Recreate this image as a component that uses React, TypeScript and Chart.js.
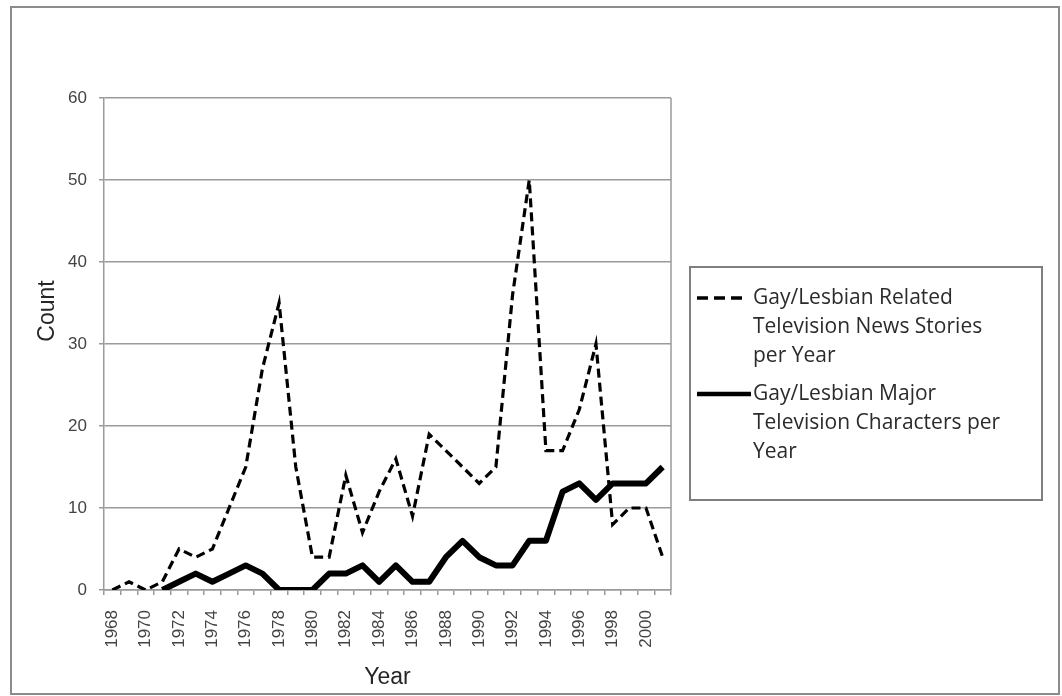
import React, { useEffect, useRef } from "react";
import { Chart, registerables } from "chart.js";

Chart.register(...registerables);

// Years on the category axis
const years: string[] = [
  "1968", "1969", "1970", "1971", "1972", "1973", "1974", "1975", "1976", "1977",
  "1978", "1979", "1980", "1981", "1982", "1983", "1984", "1985", "1986", "1987",
  "1988", "1989", "1990", "1991", "1992", "1993", "1994", "1995", "1996", "1997",
  "1998", "1999", "2000", "2001",
];

// Gay/Lesbian related television news stories per year
const newsStories: (number | null)[] = [
  0, 1, 0, 1, 5, 4, 5, 10, 15, 27,
  35, 15, 4, 4, 14, 7, 12, 16, 9, 19,
  17, 15, 13, 15, 36, 50, 17, 17, 22, 30,
  8, 10, 10, 4,
];

// Gay/Lesbian major television characters per year
const majorCharacters: (number | null)[] = [
  null, null, null, 0, 1, 2, 1, 2, 3, 2,
  0, 0, 0, 2, 2, 3, 1, 3, 1, 1,
  4, 6, 4, 3, 3, 6, 6, 12, 13, 11,
  13, 13, 13, 15,
];

const newsLabel = ["Gay/Lesbian Related", "Television News Stories", "per Year"];
const charLabel = ["Gay/Lesbian Major", "Television Characters per", "Year"];

const yTitle = "Count";
const xTitle = "Year";

const AXIS_GREY = "#9a9a9a";
const SANS = "'Liberation Sans', Arial, sans-serif";
const TICK_FONT = { family: SANS, size: 17 };

// Outer frame, plot frame, rotated y title and the boxed legend
const decorations = {
  id: "decorations",
  afterDraw(chart: Chart) {
    const { ctx, chartArea } = chart;
    ctx.save();

    // chart frame
    ctx.strokeStyle = "#8c8c8c";
    ctx.lineWidth = 2;
    ctx.strokeRect(11, 7, 1048, 687);

    // plot area frame (right side)
    ctx.strokeStyle = AXIS_GREY;
    ctx.lineWidth = 1.5;
    ctx.beginPath();
    ctx.moveTo(chartArea.right, chartArea.top);
    ctx.lineTo(chartArea.right, chartArea.bottom);
    ctx.stroke();

    // y axis title
    ctx.save();
    ctx.translate(48, 311);
    ctx.rotate(-Math.PI / 2);
    ctx.fillStyle = "#262626";
    ctx.font = `23px ${SANS}`;
    ctx.textAlign = "center";
    ctx.textBaseline = "middle";
    ctx.fillText(yTitle, 0, 0);
    ctx.restore();

    // legend box
    ctx.strokeStyle = "#7f7f7f";
    ctx.lineWidth = 2;
    ctx.strokeRect(690, 267, 352, 233);

    ctx.strokeStyle = "#000";
    ctx.lineWidth = 3.5;
    ctx.setLineDash([11, 6]);
    ctx.beginPath();
    ctx.moveTo(697, 298);
    ctx.lineTo(747, 298);
    ctx.stroke();

    ctx.setLineDash([]);
    ctx.lineWidth = 4.5;
    ctx.beginPath();
    ctx.moveTo(697, 394);
    ctx.lineTo(751, 394);
    ctx.stroke();

    ctx.fillStyle = "#2b2b2b";
    ctx.font = "21px 'Open Sans', Lato, sans-serif";
    ctx.textAlign = "left";
    ctx.textBaseline = "middle";
    newsLabel.forEach((t, i) => ctx.fillText(t, 753, 298 + i * 29));
    charLabel.forEach((t, i) => ctx.fillText(t, 753, 394 + i * 29));

    ctx.restore();
  },
};

export default function App() {
  const canvasRef = useRef<HTMLCanvasElement | null>(null);

  useEffect(() => {
    if (!canvasRef.current) return;
    const chart = new Chart(canvasRef.current, {
      type: "line",
      data: {
        labels: years,
        datasets: [
          {
            label: newsLabel.join(" "),
            data: newsStories,
            borderColor: "#000",
            borderWidth: 3.2,
            borderDash: [9, 5],
            pointRadius: 0,
            tension: 0,
            spanGaps: false,
          },
          {
            label: charLabel.join(" "),
            data: majorCharacters,
            borderColor: "#000",
            borderWidth: 6,
            borderJoinStyle: "round",
            pointRadius: 0,
            tension: 0,
            spanGaps: false,
          },
        ],
      },
      options: {
        animation: false,
        responsive: false,
        maintainAspectRatio: false,
        layout: { padding: { top: 98, right: 391, bottom: 0, left: 0 } },
        plugins: {
          legend: { display: false },
          tooltip: { enabled: false },
        },
        scales: {
          x: {
            type: "category",
            offset: true,
            grid: {
              offset: true,
              drawOnChartArea: false,
              drawTicks: true,
              tickLength: 5,
              color: AXIS_GREY,
              lineWidth: 1.5,
            },
            border: { color: AXIS_GREY, width: 1.5 },
            ticks: {
              autoSkip: false,
              maxRotation: 90,
              minRotation: 90,
              padding: 15,
              color: "#444",
              font: TICK_FONT,
              callback: (_v: any, i: number) => (i % 2 === 0 ? years[i] : ""),
            },
            title: {
              display: true,
              text: xTitle,
              color: "#262626",
              font: { family: SANS, size: 23 },
              padding: { top: 0, bottom: 5 },
            },
            afterFit: (scale: any) => {
              scale.height = 106;
            },
          },
          y: {
            min: 0,
            max: 60,
            ticks: {
              stepSize: 10,
              padding: 12,
              color: "#444",
              font: TICK_FONT,
            },
            grid: {
              color: AXIS_GREY,
              lineWidth: 1.5,
              tickLength: 5,
            },
            border: { color: AXIS_GREY, width: 1.5 },
            afterFit: (scale: any) => {
              scale.width = 104;
            },
          },
        },
      },
      plugins: [decorations],
    });
    return () => chart.destroy();
  }, []);

  return (
    <div style={{ position: "fixed", left: 0, top: 0, width: 1062, height: 696, background: "#fff" }}>
      <canvas ref={canvasRef} width={1062} height={696} style={{ width: 1062, height: 696 }} />
    </div>
  );
}
